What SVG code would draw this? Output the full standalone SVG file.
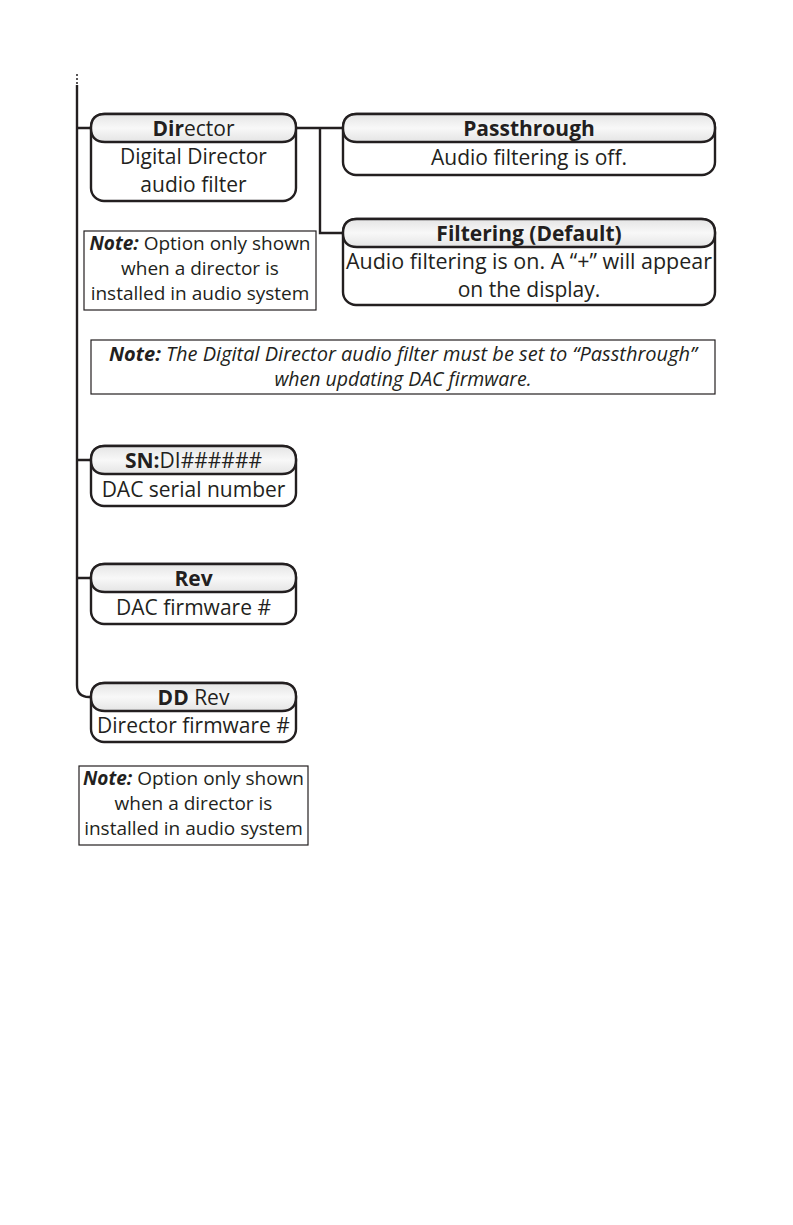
<svg xmlns="http://www.w3.org/2000/svg" width="793" height="1225" viewBox="0 0 793 1225">
<style>
.o{fill:#fff;stroke:#231f20;stroke-width:2.4}
.h{fill:url(#g);stroke:#231f20;stroke-width:2.4}
.n{fill:#fff;stroke:#231f20;stroke-width:1.2}
.c{fill:none;stroke:#231f20;stroke-width:2.4}
text{font-family:"Open Sans","Lato",sans-serif;font-size:21px;fill:#231f20;text-anchor:middle;font-variant-ligatures:none}
.b{font-weight:bold}
.i{font-style:italic}
.s{font-size:19px}
.t{font-size:19.5px}
</style>
<defs>
<linearGradient id="g" x1="0" y1="0" x2="0" y2="1">
<stop offset="0" stop-color="#e4e4e4"/>
<stop offset="0.5" stop-color="#f8f8f8"/>
<stop offset="1" stop-color="#e4e4e4"/>
</linearGradient>
</defs>
<g id="connectors">
<path class="c" d="M77 85V685Q77 697 89 697H91"/>
<path class="c" d="M77 128H91M77 460H91M77 578H91"/>
<path class="c" d="M296 128H343M320 128V233H343"/>
<path d="M77 74V76M77 78V80M77 82V84" stroke="#231f20" stroke-width="1.5"/>
</g>
<g id="director">
<rect class="o" x="91" y="114" width="205" height="87" rx="13"/>
<path class="h" d="M105 114H282Q296 114 296 128Q296 142 282 142H105Q91 142 91 128Q91 114 105 114Z"/>
<text x="193.5" y="135.5"><tspan class="b">Dir</tspan>ector</text>
<text x="193.5" y="164">Digital Director</text>
<text x="193.5" y="192">audio filter</text>
</g>
<g id="passthrough">
<rect class="o" x="343" y="114" width="372" height="61" rx="13"/>
<path class="h" d="M357 114H701Q715 114 715 128Q715 142 701 142H357Q343 142 343 128Q343 114 357 114Z"/>
<text class="b" x="529" y="135.5">Passthrough</text>
<text x="529" y="165">Audio filtering is off.</text>
</g>
<g id="filtering">
<rect class="o" x="343" y="219" width="372" height="86" rx="13"/>
<path class="h" d="M357 219H701Q715 219 715 233Q715 247 701 247H357Q343 247 343 233Q343 219 357 219Z"/>
<text class="b" x="529" y="240.5">Filtering (Default)</text>
<text x="529" y="269" textLength="366" lengthAdjust="spacingAndGlyphs">Audio filtering is on. A “+” will appear</text>
<text x="529" y="297">on the display.</text>
</g>
<g id="note1">
<rect class="n" x="84" y="231" width="232" height="79"/>
<text class="s" x="200" y="250"><tspan class="b i">Note:</tspan> Option only shown</text>
<text class="s" x="200" y="275">when a director is</text>
<text class="s" x="200" y="300">installed in audio system</text>
</g>
<g id="note2">
<rect class="n" x="91" y="340" width="624" height="54"/>
<text class="t i" x="403" y="361" textLength="588" lengthAdjust="spacingAndGlyphs"><tspan class="b">Note:</tspan> The Digital Director audio filter must be set to “Passthrough”</text>
<text class="t i" x="403" y="386">when updating DAC firmware.</text>
</g>
<g id="sn">
<rect class="o" x="91" y="446" width="205" height="60" rx="13"/>
<path class="h" d="M105 446H282Q296 446 296 460Q296 474 282 474H105Q91 474 91 460Q91 446 105 446Z"/>
<text x="193.5" y="467.5"><tspan class="b">SN:</tspan>DI######</text>
<text x="193.5" y="497">DAC serial number</text>
</g>
<g id="rev">
<rect class="o" x="91" y="564" width="205" height="60" rx="13"/>
<path class="h" d="M105 564H282Q296 564 296 578Q296 592 282 592H105Q91 592 91 578Q91 564 105 564Z"/>
<text class="b" x="193.5" y="585.5">Rev</text>
<text x="193.5" y="615">DAC firmware #</text>
</g>
<g id="ddrev">
<rect class="o" x="91" y="683" width="205" height="59" rx="13"/>
<path class="h" d="M105 683H282Q296 683 296 697Q296 711 282 711H105Q91 711 91 697Q91 683 105 683Z"/>
<text x="193.5" y="704.5"><tspan class="b">DD</tspan> Rev</text>
<text x="193.5" y="733">Director firmware #</text>
</g>
<g id="note3">
<rect class="n" x="79" y="766" width="229" height="79"/>
<text class="s" x="193.5" y="785"><tspan class="b i">Note:</tspan> Option only shown</text>
<text class="s" x="193.5" y="810">when a director is</text>
<text class="s" x="193.5" y="835">installed in audio system</text>
</g>
</svg>
